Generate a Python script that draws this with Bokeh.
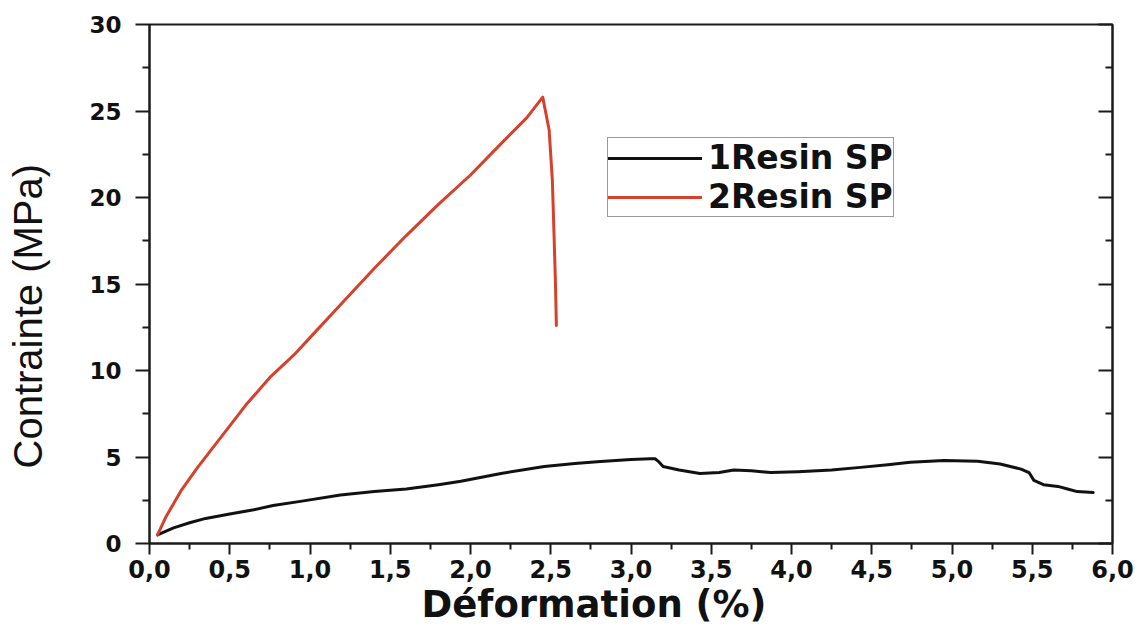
from bokeh.plotting import figure
from bokeh.models import (Range1d, FixedTicker, LinearAxis, Legend, LegendItem, Title)
from bokeh.embed import file_html
from bokeh.resources import INLINE

# Strain (%) / stress (MPa) curves for the two resin specimens
resin1_strain = [0.05, 0.10, 0.15, 0.25, 0.35, 0.50, 0.65, 0.77, 0.95, 1.19,
                 1.40, 1.60, 1.80, 1.94, 2.19, 2.46, 2.65, 2.81, 3.00, 3.12,
                 3.15, 3.17, 3.20, 3.30, 3.43, 3.55, 3.64, 3.75, 3.87, 4.04,
                 4.25, 4.43, 4.60, 4.74, 4.95, 5.16, 5.30, 5.43, 5.48, 5.51,
                 5.57, 5.66, 5.72, 5.78, 5.88]
resin1_stress = [0.5, 0.7, 0.9, 1.2, 1.45, 1.7, 1.95, 2.2, 2.45, 2.8,
                 3.0, 3.15, 3.4, 3.6, 4.05, 4.45, 4.62, 4.74, 4.85, 4.9,
                 4.9, 4.75, 4.45, 4.25, 4.05, 4.1, 4.25, 4.2, 4.1, 4.15,
                 4.25, 4.4, 4.55, 4.7, 4.8, 4.75, 4.6, 4.3, 4.1, 3.65,
                 3.4, 3.3, 3.15, 3.0, 2.95]

resin2_strain = [0.05, 0.10, 0.20, 0.30, 0.40, 0.50, 0.60, 0.75, 0.90, 1.00,
                 1.20, 1.40, 1.60, 1.80, 2.00, 2.20, 2.35, 2.45, 2.49, 2.51,
                 2.52, 2.53, 2.535]
resin2_stress = [0.5, 1.5, 3.1, 4.4, 5.6, 6.8, 8.0, 9.6, 10.9, 11.9,
                 13.9, 15.9, 17.8, 19.6, 21.3, 23.2, 24.6, 25.8, 23.9, 21.0,
                 18.0, 14.8, 12.6]

series_names = ["1Resin SP", "2Resin SP"]

x_ticks = [0.0, 0.5, 1.0, 1.5, 2.0, 2.5, 3.0, 3.5, 4.0, 4.5, 5.0, 5.5, 6.0]
x_tick_labels = ["0,0", "0,5", "1,0", "1,5", "2,0", "2,5", "3,0",
                 "3,5", "4,0", "4,5", "5,0", "5,5", "6,0"]
y_ticks = [0, 5, 10, 15, 20, 25, 30]
y_tick_labels = ["0", "5", "10", "15", "20", "25", "30"]

x_title = "Déformation (%)"
y_title = "Contrainte (MPa)"

x_minor = [t + 0.25 for t in x_ticks[:-1]]
y_minor = [t + 2.5 for t in y_ticks[:-1]]

BOLD_FONT = "DejaVu Sans"
INK = "#111111"
AXIS_INK = "#1a1a1a"

p = figure(width=1146, height=631, output_backend="svg", toolbar_location=None,
           x_range=Range1d(0, 6), y_range=Range1d(0, 30),
           min_border_left=149, min_border_right=34,
           min_border_top=24, min_border_bottom=88)
p.background_fill_color = "white"
p.border_fill_color = "white"
p.grid.visible = False
p.outline_line_color = AXIS_INK
p.outline_line_width = 2

# bottom axis
xa = p.xaxis[0]
xa.ticker = FixedTicker(ticks=x_ticks, minor_ticks=x_minor)
xa.major_label_overrides = dict(zip(x_ticks, x_tick_labels))
xa.major_label_text_font = BOLD_FONT
xa.major_label_text_font_style = "bold"
xa.major_label_text_font_size = "24px"
xa.major_label_text_color = INK
xa.major_label_standoff = 5
xa.major_tick_out = 11
xa.major_tick_in = 0
xa.minor_tick_out = 6
xa.minor_tick_in = 0

# left axis
ya = p.yaxis[0]
ya.ticker = FixedTicker(ticks=y_ticks, minor_ticks=y_minor)
ya.major_label_overrides = dict(zip(y_ticks, y_tick_labels))
ya.major_label_text_font = BOLD_FONT
ya.major_label_text_font_style = "bold"
ya.major_label_text_font_size = "23px"
ya.major_label_text_color = INK
ya.major_label_standoff = 14
ya.major_label_orientation = "horizontal"
ya.major_tick_out = 14
ya.major_tick_in = 0
ya.minor_tick_out = 7
ya.minor_tick_in = 0

for ax in (xa, ya):
    ax.axis_line_width = 2
    ax.axis_line_color = AXIS_INK
    ax.major_tick_line_width = 2
    ax.major_tick_line_color = AXIS_INK
    ax.minor_tick_line_width = 2
    ax.minor_tick_line_color = AXIS_INK

# mirrored ticks on the right edge, pointing inward
ra = LinearAxis(ticker=FixedTicker(ticks=y_ticks, minor_ticks=y_minor),
                major_label_overrides={t: "" for t in y_ticks},
                major_tick_in=14, major_tick_out=0,
                minor_tick_in=7, minor_tick_out=0,
                axis_line_width=2, axis_line_color=AXIS_INK,
                major_tick_line_width=2, major_tick_line_color=AXIS_INK,
                minor_tick_line_width=2, minor_tick_line_color=AXIS_INK,
                major_label_text_font_size="1px")
p.add_layout(ra, "right")

# blank spacer between the tick labels and the y title
spacer = LinearAxis(ticker=FixedTicker(ticks=[15], minor_ticks=[]),
                    major_label_overrides={15: ""},
                    major_label_standoff=0, major_label_text_font_size="1px",
                    major_tick_out=37, major_tick_in=0,
                    axis_line_alpha=0, major_tick_line_alpha=0,
                    minor_tick_line_alpha=0)
p.add_layout(spacer, "left")

# y title, starting a little above the bottom of the frame
p.add_layout(Title(text=y_title, align="left", offset=75, standoff=0,
                   vertical_align="bottom",
                   text_font="Liberation Sans", text_font_style="normal",
                   text_font_size="40px", text_color=INK), "left")

# x title, shifted left of the frame centre
p.add_layout(Title(text=x_title, align="left", offset=272, standoff=0,
                   text_font=BOLD_FONT, text_font_style="bold",
                   text_font_size="37px", text_color=INK), "below")

r1 = p.line(resin1_strain, resin1_stress, line_color=INK, line_width=3,
            line_join="round", line_cap="round")
r2 = p.line(resin2_strain, resin2_stress, line_color="#d5412a", line_width=3,
            line_join="round", line_cap="round")

legend = Legend(items=[LegendItem(label=series_names[0], renderers=[r1]),
                       LegendItem(label=series_names[1], renderers=[r2])],
                location=(458, 326), orientation="vertical")
legend.label_text_font = BOLD_FONT
legend.label_text_font_style = "bold"
legend.label_text_font_size = "33px"
legend.label_text_color = INK
legend.label_standoff = 6
legend.glyph_width = 94
legend.glyph_height = 34
legend.label_height = 34
legend.spacing = 0
legend.padding = 0
legend.margin = 0
legend.border_line_color = "#333333"
legend.border_line_width = 1.5
legend.background_fill_alpha = 1
p.add_layout(legend, "center")

open("out.html", "w").write(file_html(p, INLINE))
